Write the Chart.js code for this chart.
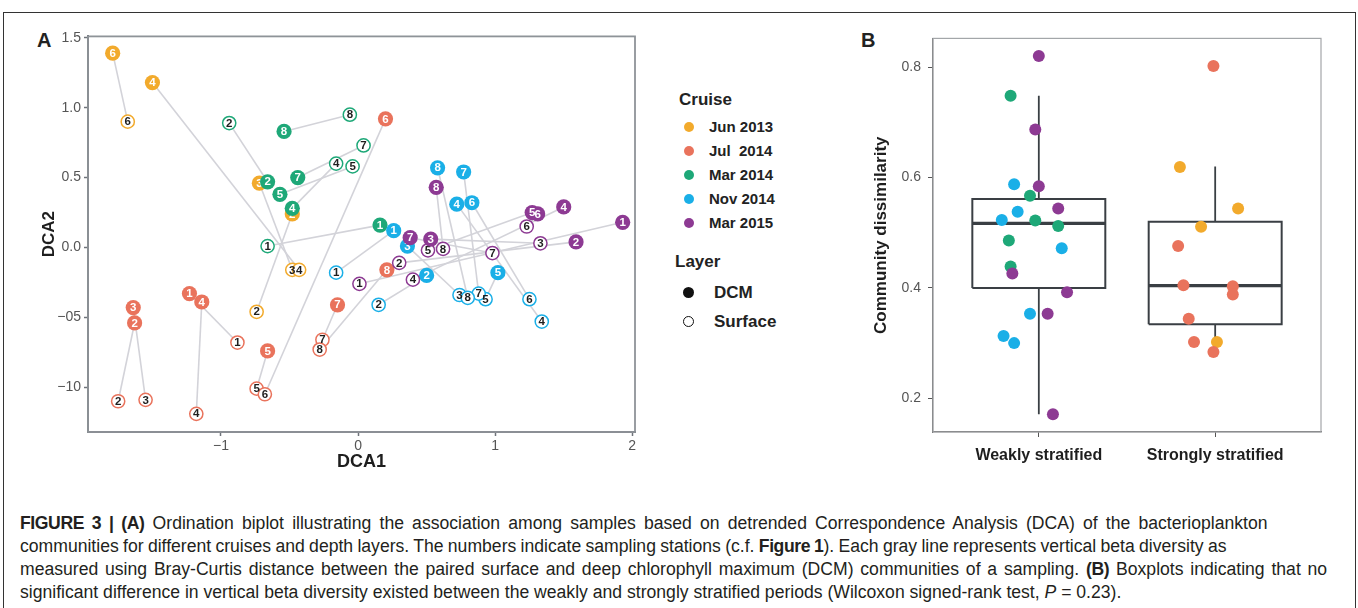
<!DOCTYPE html>
<html lang="en">
<head>
<meta charset="UTF-8">
<title>Figure 3</title>
<script src="https://cdn.jsdelivr.net/npm/chart.js"></script>
<style>
    body { margin: 0; width: 1358px; height: 608px; background: #fff; position: relative; overflow: hidden;
           font-family: "Liberation Sans", Arial, sans-serif; color: #222; }
    .frame { position: absolute; left: 3px; top: 12px; width: 1351px; height: 640px; border: 1px solid #333; }
    .panel-label { position: absolute; font-weight: bold; font-size: 20px; line-height: 20px; }
    .box { position: absolute; }
    .legend { position: absolute; left: 660px; top: 80px; width: 160px; height: 260px; }
    .legend .title { position: absolute; font-weight: bold; font-size: 17px; line-height: 20px; }
    .legend .item { position: absolute; font-weight: bold; font-size: 15px; line-height: 18px; white-space: pre; }
    .legend .dot { position: absolute; width: 10px; height: 10px; border-radius: 50%; }
    .caption { position: absolute; left: 20px; top: 512px; font-size: 17.6px; line-height: 23px; color: #231f20; white-space: nowrap; }
    .caption div { width: max-content; }
    .caption b { letter-spacing: -0.4px; }
</style>
</head>
<body>
<div class="frame"></div>
<div class="panel-label" style="left:37px; top:30px;">A</div>
<div class="panel-label" style="left:861px; top:30px;">B</div>

<div class="box" style="left:30px; top:25px; width:620px; height:448px;"><canvas id="chartA" width="620" height="448"></canvas></div>
<div class="box" style="left:862px; top:23px; width:475px; height:450px;"><canvas id="chartB" width="475" height="450"></canvas></div>

<div class="legend" id="legendA"></div>

<div class="caption">
    <div><b>FIGURE 3 | (A)</b> Ordination biplot illustrating the association among samples based on detrended Correspondence Analysis (DCA) of the bacterioplankton</div>
    <div>communities for different cruises and depth layers. The numbers indicate sampling stations (c.f. <b>Figure 1</b>). Each gray line represents vertical beta diversity as</div>
    <div>measured using Bray-Curtis distance between the paired surface and deep chlorophyll maximum (DCM) communities of a sampling. <b>(B)</b> Boxplots indicating that no</div>
    <div>significant difference in vertical beta diversity existed between the weakly and strongly stratified periods (Wilcoxon signed-rank test, <i>P</i> = 0.23).</div>
</div>

<script>
    // ---- data: panel A, [station, DCA1, DCA2] ----
    const cruises = ['Jun 2013', 'Jul  2014', 'Mar 2014', 'Nov 2014', 'Mar 2015'];
    const cruiseColors = ['#F2AA2C', '#E9735C', '#1EA878', '#1AAFE7', '#8D3A93'];

    const jun2013Dcm = [[2, -0.48, 0.24], [3, -0.72, 0.46], [4, -1.50, 1.18], [6, -1.79, 1.39]];
    const jun2013Surface = [[2, -0.74, -0.46], [3, -0.48, -0.16], [4, -0.43, -0.16], [6, -1.68, 0.90]];

    const jul2014Dcm = [[1, -1.23, -0.33], [2, -1.63, -0.54], [3, -1.64, -0.43], [4, -1.14, -0.39],
                        [5, -0.66, -0.74], [6, 0.20, 0.92], [7, -0.15, -0.41], [8, 0.21, -0.16]];
    const jul2014Surface = [[1, -0.88, -0.68], [2, -1.75, -1.10], [3, -1.55, -1.09], [4, -1.18, -1.19],
                            [5, -0.74, -1.01], [6, -0.68, -1.05], [7, -0.26, -0.66], [8, -0.28, -0.73]];

    const mar2014Dcm = [[1, 0.16, 0.16], [2, -0.66, 0.47], [4, -0.48, 0.28], [5, -0.57, 0.38], [7, -0.44, 0.50], [8, -0.54, 0.83]];
    const mar2014Surface = [[1, -0.66, 0.01], [2, -0.94, 0.89], [4, -0.16, 0.60], [5, -0.04, 0.58], [7, 0.04, 0.73], [8, -0.06, 0.95]];

    const nov2014Dcm = [[1, 0.26, 0.12], [2, 0.50, -0.20], [3, 0.36, 0.01], [4, 0.72, 0.31],
                        [5, 1.02, -0.18], [6, 0.83, 0.32], [7, 0.77, 0.54], [8, 0.58, 0.57]];
    const nov2014Surface = [[1, -0.16, -0.18], [2, 0.15, -0.41], [3, 0.74, -0.34], [4, 1.34, -0.53],
                            [5, 0.93, -0.37], [6, 1.25, -0.37], [7, 0.88, -0.33], [8, 0.80, -0.36]];

    const mar2015Dcm = [[1, 1.93, 0.18], [2, 1.59, 0.04], [3, 0.53, 0.06], [4, 1.50, 0.29],
                        [5, 1.27, 0.25], [6, 1.31, 0.24], [7, 0.38, 0.07], [8, 0.57, 0.43]];
    const mar2015Surface = [[1, 0.01, -0.26], [2, 0.30, -0.11], [3, 1.33, 0.03], [4, 0.40, -0.23],
                            [5, 0.51, -0.02], [6, 1.23, 0.15], [7, 0.98, -0.04], [8, 0.62, -0.01]];

    const xTicksA = [-1, 0, 1, 2];
    const xTickLabelsA = ['\u22121', '0', '1', '2'];
    const yTicksA = [1.5, 1.0, 0.5, 0.0, -0.5, -1.0];
    const yTickLabelsA = ['1.5', '1.0', '0.5', '0.0', '\u221205', '\u221210'];

    // ---- data: panel B ----
    const groupsB = ['Weakly stratified', 'Strongly stratified'];
    const whiskerLow = [0.171, 0.304];
    const quartile1 = [0.400, 0.334];
    const medians = [0.517, 0.404];
    const quartile3 = [0.561, 0.520];
    const whiskerHigh = [0.748, 0.620];

    // jittered position, dissimilarity, cruise index
    const weaklyJitter = [1.00, 0.84, 0.98, 0.86, 1.00, 0.95, 0.88, 1.11, 0.79, 0.98, 1.11, 0.83, 1.13, 0.84, 0.85, 1.16, 0.95, 1.05, 0.80, 0.86, 1.08];
    const weaklyValues = [0.820, 0.748, 0.687, 0.588, 0.584, 0.567, 0.538, 0.544, 0.523, 0.522, 0.512, 0.486, 0.472, 0.439, 0.426, 0.392, 0.353, 0.353, 0.313, 0.300, 0.171];
    const weaklyCruise = [4, 2, 4, 3, 4, 2, 3, 4, 3, 2, 2, 2, 3, 2, 4, 4, 3, 4, 3, 3, 4];
    const stronglyJitter = [1.99, 1.80, 2.13, 1.92, 1.79, 1.82, 2.10, 2.10, 1.85, 1.88, 2.01, 1.99];
    const stronglyValues = [0.802, 0.619, 0.544, 0.511, 0.476, 0.405, 0.403, 0.388, 0.344, 0.302, 0.302, 0.284];
    const stronglyCruise = [1, 0, 0, 0, 1, 1, 1, 1, 1, 1, 0, 1];

    const yTicksB = [0.2, 0.4, 0.6, 0.8];

    // right edge of the caption lines in the figure (last line runs free)
    const captionLineEnds = [1268, 1226, 1327, null];

    Chart.defaults.font.family = '"Liberation Sans", Arial, sans-serif';
    Chart.defaults.animation = false;

    const FONT = '"Liberation Sans", Arial, sans-serif';
    const segColor = '#d3d3d9';

    // set the word gaps of the caption lines like the typeset original
    document.querySelectorAll('.caption > div').forEach((el, i) => {
        if (!captionLineEnds[i]) return;
        const gaps = (el.textContent.trim().match(/ /g) || []).length;
        const extra = (captionLineEnds[i] - 20) - el.offsetWidth;
        el.style.wordSpacing = (extra / gaps).toFixed(3) + 'px';
    });

    // ---- panel A datasets ----
    const cruiseData = [
        [jun2013Dcm, jun2013Surface],
        [jul2014Dcm, jul2014Surface],
        [mar2014Dcm, mar2014Surface],
        [nov2014Dcm, nov2014Surface],
        [mar2015Dcm, mar2015Surface]
    ];

    const datasetsA = [];
    let drawOrder = 100;
    cruiseData.forEach(([dcm, surf]) => {
        // gray segment joining the DCM and surface sample of a station
        dcm.forEach(d => {
            const s = surf.find(p => p[0] === d[0]);
            if (!s) return;
            datasetsA.push({
                type: 'line',
                data: [{ x: d[1], y: d[2] }, { x: s[1], y: s[2] }],
                borderColor: segColor, borderWidth: 1.6, pointRadius: 0, fill: false,
                order: 1000
            });
        });
    });
    cruiseData.forEach(([dcm, surf], c) => {
        datasetsA.push({
            data: surf.map(p => ({ x: p[1], y: p[2] })),
            stations: surf.map(p => p[0]),
            labelColor: '#1e1e1e',
            backgroundColor: '#fff', borderColor: cruiseColors[c], borderWidth: 1.5,
            pointRadius: 6.6, order: drawOrder--
        });
        datasetsA.push({
            data: dcm.map(p => ({ x: p[1], y: p[2] })),
            stations: dcm.map(p => p[0]),
            labelColor: '#fff',
            backgroundColor: cruiseColors[c], borderColor: cruiseColors[c], borderWidth: 0,
            pointRadius: 7.6, order: drawOrder--
        });
    });

    const stationLabels = {
        id: 'stationLabels',
        afterDatasetDraw(chart, args) {
            const ds = chart.data.datasets[args.index];
            if (!ds.stations) return;
            const ctx = chart.ctx;
            ctx.save();
            ctx.font = 'bold 11.5px ' + FONT;
            ctx.textAlign = 'center';
            ctx.textBaseline = 'middle';
            ctx.fillStyle = ds.labelColor;
            args.meta.data.forEach((pt, i) => ctx.fillText(String(ds.stations[i]), pt.x, pt.y + 0.5));
            ctx.restore();
        }
    };

    const areaFrame = {
        id: 'areaFrame',
        beforeDatasetsDraw(chart, args, opts) {
            const { ctx, chartArea: a } = chart;
            ctx.save();
            ctx.strokeStyle = opts.color;
            ctx.lineWidth = opts.width;
            ctx.strokeRect(a.left, a.top, a.right - a.left, a.bottom - a.top);
            ctx.restore();
        }
    };

    new Chart(document.getElementById('chartA'), {
        type: 'scatter',
        data: { datasets: datasetsA },
        options: {
            responsive: false,
            layout: { padding: { top: 10, right: 15, left: 0, bottom: 0 } },
            plugins: {
                legend: { display: false },
                tooltip: { enabled: false },
                areaFrame: { color: '#8e9398', width: 1.8 }
            },
            scales: {
                x: {
                    type: 'linear', min: -1.97, max: 2.02,
                    afterFit: s => { s.height = 41; },
                    afterBuildTicks: s => { s.ticks = xTicksA.map(v => ({ value: v })); },
                    ticks: { callback: (v, i) => xTickLabelsA[i], color: '#555', font: { size: 14 }, padding: 2, maxRotation: 0 },
                    grid: { drawOnChartArea: false, tickLength: 4, color: '#6e737a', tickWidth: 1.5 },
                    border: { color: '#6e737a', width: 2 },
                    title: { display: true, text: 'DCA1', color: '#1e1e1e', font: { size: 18, weight: 'bold' }, padding: { top: 0, bottom: 0 } }
                },
                y: {
                    type: 'linear', min: -1.32, max: 1.51,
                    afterFit: s => { s.width = 58; },
                    afterBuildTicks: s => { s.ticks = yTicksA.map(v => ({ value: v })); },
                    ticks: { callback: (v, i) => yTickLabelsA[i], color: '#555', font: { size: 14 }, padding: 3 },
                    grid: { drawOnChartArea: false, tickLength: 4, color: '#6e737a', tickWidth: 1.5 },
                    border: { color: '#6e737a', width: 2 },
                    title: { display: true, text: 'DCA2', color: '#1e1e1e', font: { size: 17, weight: 'bold' }, padding: { top: 9, bottom: 0 } }
                }
            }
        },
        plugins: [areaFrame, stationLabels]
    });

    // ---- legend for panel A ----
    const legend = document.getElementById('legendA');
    let html = '<div class="title" style="left:19px; top:10px;">Cruise</div>';
    cruises.forEach((name, i) => {
        const y = 47 + i * 24;
        html += `<div class="dot" style="left:24px; top:${y - 5}px; background:${cruiseColors[i]};"></div>`;
        html += `<div class="item" style="left:49px; top:${y - 9}px;">${name}</div>`;
    });
    html += '<div class="title" style="left:15px; top:172px;">Layer</div>';
    html += '<div class="dot" style="left:23px; top:207px; width:11px; height:11px; background:#111;"></div>';
    html += '<div class="item" style="left:54px; top:203px; font-size:17px; line-height:20px;">DCM</div>';
    html += '<div class="dot" style="left:23px; top:236px; width:9px; height:9px; border:1.3px solid #111;"></div>';
    html += '<div class="item" style="left:54px; top:232px; font-size:17px; line-height:20px;">Surface</div>';
    legend.innerHTML = html;

    // ---- panel B ----
    const boxHalf = 0.377;
    const boxColor = '#3a3f44';
    const datasetsB = [];
    groupsB.forEach((g, i) => {
        const cx = i + 1;
        datasetsB.push({
            type: 'line', order: 10,
            data: [{ x: cx - boxHalf, y: quartile1[i] }, { x: cx + boxHalf, y: quartile1[i] },
                   { x: cx + boxHalf, y: quartile3[i] }, { x: cx - boxHalf, y: quartile3[i] },
                   { x: cx - boxHalf, y: quartile1[i] }],
            borderColor: boxColor, borderWidth: 2, pointRadius: 0, fill: false, tension: 0
        });
        datasetsB.push({
            type: 'line', order: 10,
            data: [{ x: cx - boxHalf, y: medians[i] }, { x: cx + boxHalf, y: medians[i] }],
            borderColor: boxColor, borderWidth: 3.2, pointRadius: 0, fill: false
        });
        datasetsB.push({
            type: 'line', order: 10,
            data: [{ x: cx, y: quartile3[i] }, { x: cx, y: whiskerHigh[i] }],
            borderColor: boxColor, borderWidth: 1.8, pointRadius: 0, fill: false
        });
        datasetsB.push({
            type: 'line', order: 10,
            data: [{ x: cx, y: quartile1[i] }, { x: cx, y: whiskerLow[i] }],
            borderColor: boxColor, borderWidth: 1.8, pointRadius: 0, fill: false
        });
    });
    datasetsB.push({
        order: 1,
        data: weaklyValues.map((v, i) => ({ x: weaklyJitter[i], y: v })),
        backgroundColor: weaklyCruise.map(c => cruiseColors[c]),
        borderWidth: 0, pointRadius: 6
    });
    datasetsB.push({
        order: 0,
        data: stronglyValues.map((v, i) => ({ x: stronglyJitter[i], y: v })),
        backgroundColor: stronglyCruise.map(c => cruiseColors[c]),
        borderWidth: 0, pointRadius: 6
    });

    new Chart(document.getElementById('chartB'), {
        type: 'scatter',
        data: { datasets: datasetsB },
        options: {
            responsive: false,
            layout: { padding: { top: 10, right: 16, left: 0, bottom: 0 } },
            plugins: {
                legend: { display: false },
                tooltip: { enabled: false },
                areaFrame: { color: '#a3a6a9', width: 1.2 }
            },
            scales: {
                x: {
                    type: 'linear', min: 0.4, max: 2.6,
                    afterFit: s => { s.height = 41; },
                    afterBuildTicks: s => { s.ticks = groupsB.map((g, i) => ({ value: i + 1 })); },
                    ticks: { callback: (v, i) => groupsB[i], color: '#1e1e1e', font: { size: 16, weight: 'bold' }, padding: 9, maxRotation: 0 },
                    grid: { drawOnChartArea: false, tickLength: 5, color: '#555' },
                    border: { color: '#666', width: 1.2 }
                },
                y: {
                    type: 'linear', min: 0.139, max: 0.852,
                    afterFit: s => { s.width = 71; },
                    afterBuildTicks: s => { s.ticks = yTicksB.map(v => ({ value: v })); },
                    ticks: { callback: v => v.toFixed(1), color: '#555', font: { size: 14 }, padding: 7 },
                    grid: { drawOnChartArea: false, tickLength: 5, color: '#555' },
                    border: { color: '#666', width: 1.2 },
                    title: { display: true, text: 'Community dissimilarity', color: '#1e1e1e', font: { size: 17, weight: 'bold' }, padding: { top: 9, bottom: 0 } }
                }
            }
        },
        plugins: [areaFrame]
    });
</script>
</body>
</html>
